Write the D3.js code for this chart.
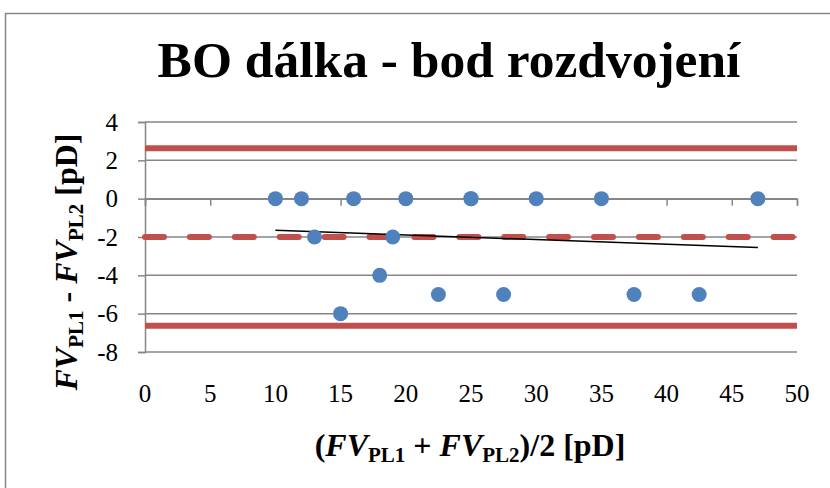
<!DOCTYPE html>
<html>
<head>
<meta charset="utf-8">
<script src="https://cdn.jsdelivr.net/npm/d3@7"></script>
<style>
  body { margin: 0; background: #fff; }
  svg, text { font-family: "Liberation Serif", "Times New Roman", serif; }
</style>
</head>
<body>
<div id="chart"></div>
<script>

// mean of the two measurements (x) and their difference (y)
const meanValues = [10, 12, 13, 15, 16, 18, 19, 20, 22.5, 25, 25, 27.5, 30, 35, 37.5, 42.5, 47];
const diffValues = [0, 0, -2, -6, 0, -4, -2, 0, -5, 0, 0, -5, 0, 0, -5, -5, 0];

// limits of agreement and mean difference
const limitValues = [2.63, -6.63];
const meanDiff = -2;

const xTicks = [0, 5, 10, 15, 20, 25, 30, 35, 40, 45, 50];
const yTicks = [-8, -6, -4, -2, 0, 2, 4];

const W = 830, H = 488;
const gridColor = "#868686";
const red = "#C0504D";
const blue = "#4F81BD";

const svg = d3.select("#chart")
    .append("svg")
    .attr("width", W)
    .attr("height", H);

// outer frame
svg.append("rect")
    .attr("x", 5.5).attr("y", 13.5)
    .attr("width", 900).attr("height", 600)
    .attr("fill", "none")
    .attr("stroke", gridColor)
    .attr("stroke-width", 1.5);

const x = d3.scaleLinear().domain([0, 50]).range([145, 797]);
const y = d3.scaleLinear().domain([-8, 4]).range([352, 122]);

// horizontal gridlines
svg.append("g")
    .selectAll("line")
    .data(yTicks)
    .join("line")
    .attr("x1", x(0)).attr("x2", x(50))
    .attr("y1", d => y(d)).attr("y2", d => y(d))
    .attr("stroke", gridColor)
    .attr("stroke-width", 1.5);

// y axis
const yAxis = svg.append("g")
    .attr("transform", `translate(${x(0)},0)`)
    .call(d3.axisLeft(y).tickValues(yTicks).tickSize(7).tickPadding(20).tickFormat(d => d))
    .attr("font-family", null);
yAxis.select(".domain").attr("stroke", gridColor).attr("stroke-width", 1.5);
yAxis.selectAll(".tick line").attr("stroke", gridColor).attr("stroke-width", 1.5);
yAxis.selectAll(".tick text")
    .attr("font-size", 25)
    .attr("fill", "#000");

// x axis crosses at y = 0, labels at the bottom
const xAxis = svg.append("g")
    .attr("transform", `translate(0,${y(0)})`)
    .call(d3.axisBottom(x).tickValues(xTicks).tickSize(7).tickFormat(""));
xAxis.select(".domain").attr("stroke", gridColor).attr("stroke-width", 1.5);
xAxis.selectAll(".tick line").attr("stroke", gridColor).attr("stroke-width", 1.5);

svg.append("g")
    .selectAll("text")
    .data(xTicks)
    .join("text")
    .attr("x", d => x(d))
    .attr("y", 402)
    .attr("text-anchor", "middle")
    .attr("font-size", 25)
    .text(d => d);

// limits of agreement
svg.append("g")
    .selectAll("line")
    .data(limitValues)
    .join("line")
    .attr("x1", x(0)).attr("x2", x(50))
    .attr("y1", d => y(d)).attr("y2", d => y(d))
    .attr("stroke", red)
    .attr("stroke-width", 6);

// mean difference (dashed)
svg.append("line")
    .attr("x1", x(0)).attr("x2", x(50))
    .attr("y1", y(meanDiff)).attr("y2", y(meanDiff))
    .attr("stroke", red)
    .attr("stroke-width", 6)
    .attr("stroke-linecap", "round")
    .attr("stroke-dasharray", "19,25.9")
    .attr("stroke-dashoffset", 0);

// linear trendline from the points
const mx = d3.mean(meanValues), my = d3.mean(diffValues);
let sxy = 0, sxx = 0;
meanValues.forEach((v, i) => {
    sxy += (v - mx) * (diffValues[i] - my);
    sxx += (v - mx) * (v - mx);
});
const slope = sxy / sxx;
const icpt = my - slope * mx;
const xr = d3.extent(meanValues);

svg.append("line")
    .attr("x1", x(xr[0])).attr("x2", x(xr[1]))
    .attr("y1", y(icpt + slope * xr[0])).attr("y2", y(icpt + slope * xr[1]))
    .attr("stroke", "#000")
    .attr("stroke-width", 1.5);

// points
svg.append("g")
    .selectAll("circle")
    .data(meanValues)
    .join("circle")
    .attr("cx", d => x(d))
    .attr("cy", (d, i) => y(diffValues[i]))
    .attr("r", 7.5)
    .attr("fill", blue);

// title
svg.append("text")
    .attr("x", 449)
    .attr("y", 77)
    .attr("text-anchor", "middle")
    .attr("font-size", 51.5)
    .attr("font-weight", "bold")
    .text("BO dálka - bod rozdvojení");

// helper to write FV_PLx style labels
function addParts(t, parts) {
    parts.forEach(p => {
        const s = t.append("tspan").text(p.t);
        if (p.i) s.attr("font-style", "italic");
        if (p.sub) s.attr("font-size", 21).attr("dy", 6);
        if (p.up) s.attr("dy", -6);
    });
}

// x axis title
const xt = svg.append("text")
    .attr("x", 470)
    .attr("y", 456)
    .attr("text-anchor", "middle")
    .attr("font-size", 32)
    .attr("font-weight", "bold");
addParts(xt, [
    {t: "("}, {t: "FV", i: true}, {t: "PL1", sub: true},
    {t: " + ", up: true}, {t: "FV", i: true}, {t: "PL2", sub: true},
    {t: ")/2 [pD]", up: true}
]);

// y axis title
const yt = svg.append("text")
    .attr("transform", "translate(77,262) rotate(-90)")
    .attr("text-anchor", "middle")
    .attr("font-size", 32)
    .attr("font-weight", "bold");
addParts(yt, [
    {t: "FV", i: true}, {t: "PL1", sub: true},
    {t: " - ", up: true}, {t: "FV", i: true}, {t: "PL2", sub: true},
    {t: " [pD]", up: true}
]);

</script>
</body>
</html>
